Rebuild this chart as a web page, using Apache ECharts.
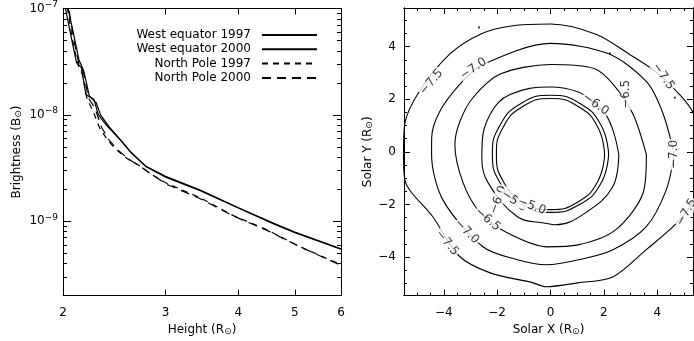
<!DOCTYPE html>
<html><head><meta charset="utf-8">
<script src="https://cdn.jsdelivr.net/npm/echarts@6/dist/echarts.min.js"></script>
<style>html,body{margin:0;padding:0;background:#fff}#c{width:694px;height:341px}</style>
</head><body><div id="c"></div>
<script>
// ---------- Left panel data ----------
const seriesNames = ['West equator 1997', 'West equator 2000', 'North Pole 1997', 'North Pole 2000'];
const heightWE1997 = [2.00, 2.07, 2.11, 2.15, 2.19, 2.26, 2.30, 2.38, 2.51, 2.61, 2.77, 3.0, 3.44, 4.0, 4.59, 5.0, 6.0];
const brightWE1997 = [1.3e-7, 5.1e-8, 3.1e-8, 2.8e-8, 1.55e-8, 1.4e-8, 1.0e-8, 7.9e-9, 5.8e-9, 4.5e-9, 3.3e-9, 2.64e-9, 1.96e-9, 1.34e-9, 9.6e-10, 7.9e-10, 5.5e-10];
const heightWE2000 = [2.02, 2.09, 2.13, 2.17, 2.22, 2.28, 2.32, 2.40, 2.52, 2.62, 2.78, 3.0, 3.44, 4.0, 4.59, 5.0, 6.0];
const brightWE2000 = [1.3e-7, 5.4e-8, 3.3e-8, 2.6e-8, 1.5e-8, 1.3e-8, 1.0e-8, 7.7e-9, 5.7e-9, 4.4e-9, 3.25e-9, 2.6e-9, 1.94e-9, 1.33e-9, 9.5e-10, 7.8e-10, 5.45e-10];
const heightNP1997 = [2.02, 2.08, 2.12, 2.16, 2.20, 2.25, 2.31, 2.38, 2.46, 2.58, 2.69, 2.82, 3.0, 3.44, 3.92, 4.48, 5.10, 6.0];
const brightNP1997 = [1.3e-7, 4.8e-8, 3.0e-8, 2.4e-8, 1.4e-8, 1.1e-8, 7.6e-9, 5.9e-9, 4.78e-9, 3.87e-9, 3.4e-9, 2.82e-9, 2.3e-9, 1.66e-9, 1.13e-9, 8.3e-10, 5.77e-10, 3.9e-10];
const heightNP2000 = [2.03, 2.09, 2.13, 2.17, 2.21, 2.27, 2.33, 2.40, 2.48, 2.60, 2.71, 2.84, 3.0, 3.44, 3.92, 4.48, 5.10, 6.0];
const brightNP2000 = [1.3e-7, 4.9e-8, 3.0e-8, 2.5e-8, 1.45e-8, 1.15e-8, 7.6e-9, 5.8e-9, 4.7e-9, 3.8e-9, 3.3e-9, 2.75e-9, 2.25e-9, 1.63e-9, 1.12e-9, 8.2e-10, 5.75e-10, 3.85e-10];
const heightTickLabels = [2, 3, 4, 5, 6];
const heightMajorTicks = [3, 4, 5];
const brightMinorTicks = [3e-10, 4e-10, 5e-10, 6e-10, 7e-10, 8e-10, 9e-10,
  2e-9, 3e-9, 4e-9, 5e-9, 6e-9, 7e-9, 8e-9, 9e-9,
  2e-8, 3e-8, 4e-8, 5e-8, 6e-8, 7e-8, 8e-8, 9e-8];

// ---------- Right panel data ----------
const solarTicks = [-4, -2, 0, 2, 4];
const solarMinorTicks = [-5, -4.5, -3.5, -3, -2.5, -1.5, -1, -0.5, 0.5, 1, 1.5, 2.5, 3, 3.5, 4.5, 5];
const contourLevels = ['−5.0', '−5.5', '−6.0', '−6.5', '−7.0', '−7.5'];
const angle50 = [0, 30, 60, 90, 120, 150, 180, 210, 240, 270, 300, 330, 360];
const radius50 = [2.02, 2.04, 2.07, 2.09, 2.07, 2.04, 2.02, 2.03, 2.05, 2.06, 2.05, 2.03, 2.02];
const angle55 = [0, 30, 60, 90, 120, 150, 180, 210, 240, 270, 300, 330, 360];
const radius55 = [2.17, 2.18, 2.20, 2.21, 2.20, 2.18, 2.17, 2.16, 2.16, 2.16, 2.16, 2.17, 2.17];
const angle60 = [0, 20, 36, 48, 66, 90, 124, 146, 172, 184, 204, 242, 267, 274, 301, 333, 360];
const radius60 = [2.55, 2.50, 2.55, 2.52, 2.55, 2.52, 2.70, 2.71, 2.58, 2.57, 2.56, 2.63, 2.58, 2.63, 2.54, 2.62, 2.55];
const angle65 = [0, 26, 48, 63, 90, 122, 144, 160, 174, 198, 220, 241, 268, 287, 311, 338, 360];
const radius65 = [3.58, 3.43, 3.51, 3.60, 3.36, 3.54, 3.59, 3.60, 3.59, 3.43, 3.41, 3.34, 3.45, 3.53, 3.72, 3.74, 3.58];
const angle70 = [0, 20, 37, 60, 90, 128, 142, 159, 172, 180, 203, 234, 252, 268, 285, 303, 323, 343, 360];
const radius70 = [4.62, 4.47, 4.50, 4.34, 4.15, 4.22, 4.28, 4.44, 4.48, 4.44, 4.36, 4.27, 4.12, 4.12, 4.07, 4.25, 4.48, 4.52, 4.62];
const angle75 = [0, 16, 25, 38, 52, 69, 90, 107, 120, 135, 154, 168, 180, 190, 208, 228, 243, 262, 268, 282, 297, 315, 331, 342, 360];
const radius75 = [5.65, 5.55, 5.31, 5.00, 4.76, 4.80, 4.87, 5.02, 5.20, 5.31, 5.43, 5.56, 5.49, 5.52, 4.97, 5.10, 4.96, 4.83, 4.94, 4.90, 5.13, 5.04, 5.35, 5.60, 5.65];
const labelText = ['−7.5', '−7.0', '−7.5', '−6.5', '−6.0', '−7.0', '−7.5', '−7.5', '−7.0', '−6.5', '−6.0', '−5.5', '−5.0'];
const labelRadius = [5.2, 4.3, 5.12, 3.6, 2.52, 4.6, 5.52, 5.08, 4.25, 3.37, 2.58, 2.2, 2.05];
const labelAngle = [148.7, 132, 34.7, 38.6, 48, 0, -23, 220.5, 222.7, 226, 221, 232, 250];
const labelRotate = [50, 35, -55, 90, -35, 90, 60, -50, -45, -40, 70, -35, -20];
const speckX = [-2.68, 2.23, 4.66];
const speckY = [4.73, 3.74, 2.06];

const font = 'DejaVu Sans';
const black = '#000';
const zip = (a, b) => a.map((v, i) => [v, b[i]]);
const polarPts = (ang, rad) => ang.map((a, i) => [rad[i], a]);

const txt = { color: black, fontSize: 12, fontFamily: font };
const supRich = { e: { fontSize: 9, fontFamily: font, color: black, padding: [0, 0, 8, 0] } };
const nameRich = { s: { fontSize: 9, fontFamily: font, color: black, padding: [4, 0, 0, 0] } };
const line = { onZero: false, lineStyle: { color: black, width: 1 } };
const noLabel = { show: false };
const noSplit = { show: false };
const fmtSolar = v => (v < 0 ? '−' + Math.abs(v) : String(v));
const fmtBright = v => '10{e|−' + Math.round(-Math.log10(v)) + '}';

const yMin = 2e-10, yMax = 1e-7;
const sxMin = -5.49, sxMax = 5.34, syMin = -5.47, syMax = 5.47;
const pxPerUnit = 293 / (syMax - syMin);
const polarMax = 7;

function tick(len, values) {
  return { show: true, inside: true, length: len, customValues: values, lineStyle: { color: black, width: 1 } };
}

const xAxis = [
  { gridIndex: 0, type: 'log', min: 2, max: 6, position: 'bottom', axisLine: line,
    axisTick: tick(6, heightMajorTicks),
    axisLabel: Object.assign({ customValues: heightTickLabels, margin: 11 }, txt), splitLine: noSplit,
    name: 'Height (R{s|⊙})', nameLocation: 'middle', nameGap: 26,
    nameTextStyle: Object.assign({ rich: nameRich }, txt) },
  { gridIndex: 0, type: 'log', min: 2, max: 6, position: 'top', axisLine: line,
    axisTick: tick(6, heightMajorTicks), axisLabel: noLabel, splitLine: noSplit },
  { gridIndex: 1, type: 'value', min: sxMin, max: sxMax, position: 'bottom', axisLine: line,
    axisTick: tick(6, solarTicks),
    axisLabel: Object.assign({ customValues: solarTicks, margin: 11, formatter: fmtSolar }, txt), splitLine: noSplit,
    name: 'Solar X (R{s|⊙})', nameLocation: 'middle', nameGap: 26,
    nameTextStyle: Object.assign({ rich: nameRich }, txt) },
  { gridIndex: 1, type: 'value', min: sxMin, max: sxMax, position: 'bottom', axisLine: line,
    axisTick: tick(3, solarMinorTicks), axisLabel: noLabel, splitLine: noSplit },
  { gridIndex: 1, type: 'value', min: sxMin, max: sxMax, position: 'top', axisLine: line,
    axisTick: tick(6, solarTicks), axisLabel: noLabel, splitLine: noSplit },
  { gridIndex: 1, type: 'value', min: sxMin, max: sxMax, position: 'top', axisLine: line,
    axisTick: tick(3, solarMinorTicks), axisLabel: noLabel, splitLine: noSplit }
];

const yAxis = [
  { gridIndex: 0, type: 'log', min: yMin, max: yMax, position: 'left', axisLine: line,
    axisTick: { show: true, inside: true, length: 8, lineStyle: { color: black } },
    axisLabel: Object.assign({ formatter: fmtBright, rich: supRich, margin: 5, showMinLabel: false }, txt), splitLine: noSplit,
    name: 'Brightness (B{s|⊙})', nameLocation: 'middle', nameGap: 40,
    nameTextStyle: Object.assign({ rich: nameRich }, txt) },
  { gridIndex: 0, type: 'log', min: yMin, max: yMax, position: 'left', axisLine: line,
    axisTick: tick(4, brightMinorTicks), axisLabel: noLabel, splitLine: noSplit },
  { gridIndex: 0, type: 'log', min: yMin, max: yMax, position: 'right', axisLine: line,
    axisTick: { show: true, inside: true, length: 8, lineStyle: { color: black } },
    axisLabel: noLabel, splitLine: noSplit },
  { gridIndex: 0, type: 'log', min: yMin, max: yMax, position: 'right', axisLine: line,
    axisTick: tick(4, brightMinorTicks), axisLabel: noLabel, splitLine: noSplit },
  { gridIndex: 1, type: 'value', min: syMin, max: syMax, position: 'left', axisLine: line,
    axisTick: tick(6, solarTicks),
    axisLabel: Object.assign({ customValues: solarTicks, margin: 8, formatter: fmtSolar }, txt), splitLine: noSplit,
    name: 'Solar Y (R{s|⊙})', nameLocation: 'middle', nameGap: 30,
    nameTextStyle: Object.assign({ rich: nameRich }, txt) },
  { gridIndex: 1, type: 'value', min: syMin, max: syMax, position: 'left', axisLine: line,
    axisTick: tick(3, solarMinorTicks), axisLabel: noLabel, splitLine: noSplit },
  { gridIndex: 1, type: 'value', min: syMin, max: syMax, position: 'right', axisLine: line,
    axisTick: tick(6, solarTicks), axisLabel: noLabel, splitLine: noSplit },
  { gridIndex: 1, type: 'value', min: syMin, max: syMax, position: 'right', axisLine: line,
    axisTick: tick(3, solarMinorTicks), axisLabel: noLabel, splitLine: noSplit }
];

function brightSeries(name, xs, ys, dash) {
  return { name, type: 'line', xAxisIndex: 0, yAxisIndex: 0, data: zip(xs, ys), symbol: 'none',
    lineStyle: { color: black, width: 1.2, type: dash }, itemStyle: { color: black }, animation: false, clip: true };
}
function contourSeries(level, ang, rad, sm) {
  return { name: level, type: 'line', coordinateSystem: 'polar', polarIndex: 0, data: polarPts(ang, rad),
    symbol: 'none', smooth: sm, lineStyle: { color: black, width: 1.1 }, animation: false, clip: false, z: 2 };
}

const option = {
  animation: false,
  backgroundColor: '#fff',
  textStyle: { fontFamily: font },
  grid: [
    { left: 63, top: 8, width: 278, height: 293 },
    { left: 404, top: 8, width: 289, height: 293 }
  ],
  polar: { center: [550.5, 154.5], radius: polarMax * pxPerUnit },
  angleAxis: { type: 'value', min: 0, max: 360, startAngle: 0, clockwise: false, show: false,
    axisLine: { show: false }, axisTick: { show: false }, axisLabel: { show: false }, splitLine: { show: false } },
  radiusAxis: { type: 'value', min: 0, max: polarMax, show: false,
    axisLine: { show: false }, axisTick: { show: false }, axisLabel: { show: false }, splitLine: { show: false } },
  legend: {
    data: seriesNames, orient: 'vertical', align: 'right', right: 376, top: 28, padding: 0,
    itemWidth: 55, itemHeight: 14, itemGap: 0.3,
    itemStyle: { opacity: 0, borderWidth: 0 },
    textStyle: { color: black, fontSize: 12, fontFamily: font, lineHeight: 14, padding: [0, 6, 0, 0] }
  },
  xAxis, yAxis,
  series: [
    brightSeries(seriesNames[0], heightWE1997, brightWE1997, 'solid'),
    brightSeries(seriesNames[1], heightWE2000, brightWE2000, 'solid'),
    brightSeries(seriesNames[2], heightNP1997, brightNP1997, [6, 5]),
    brightSeries(seriesNames[3], heightNP2000, brightNP2000, [9, 6]),
    contourSeries(contourLevels[0], angle50, radius50, 0.5),
    contourSeries(contourLevels[1], angle55, radius55, 0.5),
    contourSeries(contourLevels[2], angle60, radius60, 0.4),
    contourSeries(contourLevels[3], angle65, radius65, 0.3),
    contourSeries(contourLevels[4], angle70, radius70, 0.3),
    contourSeries(contourLevels[5], angle75, radius75, 0.3),
    { type: 'scatter', xAxisIndex: 2, yAxisIndex: 4, data: zip(speckX, speckY), symbol: 'rect',
      symbolSize: 2, itemStyle: { color: black }, animation: false, silent: true },
    { type: 'scatter', coordinateSystem: 'polar', polarIndex: 0, symbolSize: 0, z: 5,
      data: labelText.map((t, i) => ({ value: [labelRadius[i], labelAngle[i]], name: t,
        label: { rotate: labelRotate[i] } })),
      label: { show: true, position: 'inside', formatter: p => p.name, color: black, fontSize: 12,
        fontFamily: font, backgroundColor: '#fff', padding: [0, 1] },
      animation: false }
  ]
};
const chart = echarts.init(document.getElementById('c'), null, { renderer: 'canvas' });
chart.setOption(option);
</script></body></html>
